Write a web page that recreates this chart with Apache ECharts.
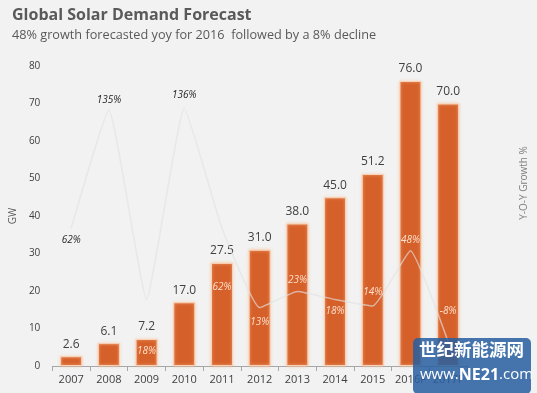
<!DOCTYPE html>
<html><head><meta charset="utf-8">
<script src="https://cdn.jsdelivr.net/npm/echarts@6/dist/echarts.min.js"></script>
<style>html,body{margin:0;padding:0;background:#F2F2F2;}#c{width:537px;height:393px;}</style>
</head><body><div id="c"></div>
<script>
var categories = ['2007','2008','2009','2010','2011','2012','2013','2014','2015','2016F','2017F'];
var demandGW = [2.6, 6.1, 7.2, 17.0, 27.5, 31.0, 38.0, 45.0, 51.2, 76.0, 70.0];
var growthPct = [62, 135, 18, 136, 62, 13, 23, 18, 14, 48, -8];
var gwTicks = [0, 10, 20, 30, 40, 50, 60, 70, 80];

// label placement of growth labels (vertical offset in px from point) and colours
var growthLabelOffset = [12, -10, 52, -13, 59, 15, -11, 12, -14, -11, -31];
var growthLabelDark = [true, true, false, true, false, false, false, false, false, false, false];

var chart = echarts.init(document.getElementById('c'));
var FONT = '"Open Sans", "Noto Sans", sans-serif';
chart.setOption({
  backgroundColor: '#F2F2F2',
  animation: false,
  title: [{
    text: 'Global Solar Demand Forecast',
    left: 7, top: 2,
    textStyle: {fontFamily: FONT, fontSize: 16, fontWeight: 'bold', color: '#595959'}
  }, {
    text: '48% growth forecasted yoy for 2016  followed by a 8% decline',
    left: 7, top: 24,
    textStyle: {fontFamily: FONT, fontSize: 12.7, fontWeight: 'normal', color: '#595959'}
  }],
  grid: {left: 51, right: 68, top: 66, bottom: 27},
  xAxis: {
    type: 'category', data: categories,
    axisLine: {lineStyle: {color: '#A6A6A6'}},
    axisTick: {show: true, length: 5, lineStyle: {color: '#A6A6A6'}},
    axisLabel: {fontFamily: FONT, fontSize: 11, color: '#404040', margin: 8, interval: 0}
  },
  yAxis: [{
    type: 'value', min: gwTicks[0], max: gwTicks[gwTicks.length - 1], interval: 10,
    name: 'GW', nameLocation: 'middle', nameGap: 26, nameRotate: 90,
    nameTextStyle: {fontFamily: FONT, fontSize: 10, color: '#595959'},
    axisLine: {show: false}, axisTick: {show: false}, splitLine: {show: false},
    axisLabel: {fontFamily: FONT, fontSize: 10, color: '#404040', margin: 12}
  }, {
    type: 'value', min: -23, max: 162,
    name: 'Y-O-Y Growth %', nameLocation: 'middle', nameGap: 52, nameRotate: 90,
    nameTextStyle: {fontFamily: FONT, fontSize: 10, color: '#7F7F7F', padding: [0, 0, 0, 66]},
    axisLine: {show: false}, axisTick: {show: false}, splitLine: {show: false},
    axisLabel: {show: false}
  }],
  series: [{
    type: 'bar', data: demandGW, barWidth: 22, yAxisIndex: 0,
    itemStyle: {color: '#D6602A', borderColor: '#F9D2B8', borderWidth: 1,
      shadowColor: 'rgba(250,200,160,0.9)', shadowBlur: 3},
    label: {show: true, position: 'top', distance: 6, fontFamily: FONT, fontSize: 12, color: '#404040',
      formatter: function (p) { return p.value.toFixed(1); }}
  }, {
    type: 'line', yAxisIndex: 1, z: 5,
    data: growthPct.map(function (v, i) {
      return {value: v, label: {offset: [0, growthLabelOffset[i]],
        color: growthLabelDark[i] ? '#262626' : '#FCE0CC'}};
    }),
    smooth: 0.12, showSymbol: true, symbol: 'circle', symbolSize: 1,
    itemStyle: {color: 'rgba(0,0,0,0)'},
    lineStyle: {color: 'rgba(226,226,226,0.65)', width: 1.5},
    label: {show: true, position: 'inside', fontFamily: FONT, fontSize: 10, fontStyle: 'italic',
      formatter: function (p) { return p.value + '%'; }}
  }],
  graphic: [{
    type: 'rect', left: 413, top: 338, z: 100, shape: {width: 118, height: 56, r: 5},
    style: {fill: 'rgba(40,95,160,0.86)'}
  }, {
    type: 'text', left: 419, top: 341, z: 101,
    style: {text: '世纪新能源网', fill: '#FFFFFF', font: 'bold 17.5px "Noto Sans CJK SC", sans-serif'}
  }, {
    type: 'text', left: 420, top: 367, z: 101,
    style: {text: 'www.{b|NE21}.com', fill: '#FFFFFF', font: '15px "Open Sans", sans-serif',
      rich: {b: {fill: '#FFFFFF', fontWeight: 'bold', fontSize: 16, fontFamily: '"Open Sans", sans-serif'}}}
  }]
});
</script></body></html>
